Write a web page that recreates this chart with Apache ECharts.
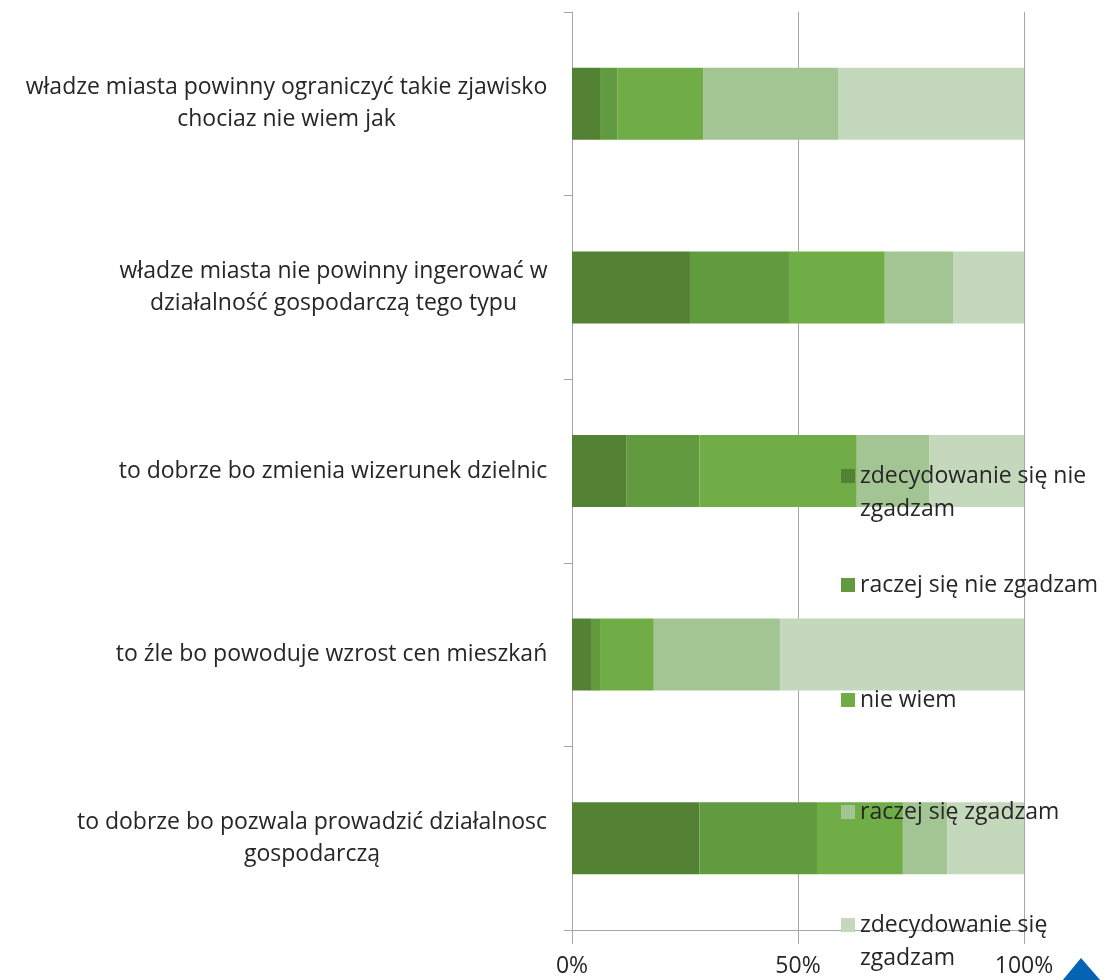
<!DOCTYPE html>
<html>
<head>
<meta charset="utf-8">
<script src="https://cdn.jsdelivr.net/npm/echarts@6/dist/echarts.min.js"></script>
<style>html,body{margin:0;padding:0;background:#fff;}#main{width:1107px;height:980px;}</style>
</head>
<body>
<div id="main"></div>
<script>
const categories = [
  "władze miasta powinny ograniczyć takie zjawisko\nchociaz nie wiem jak",
  "władze miasta nie powinny ingerować w\ndziałalność gospodarczą tego typu",
  "to dobrze bo zmienia wizerunek dzielnic",
  "to źle bo powoduje wzrost cen mieszkań",
  "to dobrze bo pozwala prowadzić działalnosc\ngospodarczą"
];
const seriesNames = [
  "zdecydowanie się nie zgadzam",
  "raczej się nie zgadzam",
  "nie wiem",
  "raczej się zgadzam",
  "zdecydowanie się zgadzam"
];
const strongDisagree = [6.2, 26.1, 12.1, 4.2, 28.2];
const ratherDisagree = [3.9, 21.9, 16.1, 2.0, 26.0];
const dontKnow      = [18.9, 21.2, 34.8, 11.9, 19.0];
const ratherAgree   = [30.0, 15.1, 16.1, 27.9, 9.8];
const strongAgree   = [41.0, 15.7, 20.9, 54.0, 17.0];
const xTicks = [0, 50, 100];

const colors = ['#548235', '#629a3f', '#70ad47', '#a3c593', '#c4d8bc'];
const legendLabels = {
  "zdecydowanie się nie zgadzam": "zdecydowanie się nie\nzgadzam",
  "raczej się nie zgadzam": "raczej się nie zgadzam",
  "nie wiem": "nie wiem",
  "raczej się zgadzam": "raczej się zgadzam",
  "zdecydowanie się zgadzam": "zdecydowanie się\nzgadzam"
};
const FONT = 'Open Sans';
const FS = 23;
const TXT = '#262626';
const L = 33;
const legendCenters = [476, 585, 700, 812, 925];
const allData = [strongDisagree, ratherDisagree, dontKnow, ratherAgree, strongAgree];

// measure label widths so multi-line labels are centred within their own block
const cv = document.createElement('canvas').getContext('2d');
cv.font = FS + 'px "' + FONT + '"';
const rich = {};
categories.forEach((c, i) => {
  const w = Math.max(...c.split('\n').map(s => cv.measureText(s).width));
  rich['r' + i] = { width: Math.ceil(w) + 1, align: 'center', fontFamily: FONT, fontSize: FS, color: TXT, lineHeight: 32 };
});

const legends = seriesNames.map((n, i) => {
  const lbl = legendLabels[n];
  const multi = lbl.indexOf('\n') >= 0;
  return {
    data: [n],
    orient: 'vertical',
    left: 841,
    top: multi ? legendCenters[i] - 1.5 * L : legendCenters[i] - L / 2,
    itemWidth: 14,
    itemHeight: 14,
    itemGap: 0,
    padding: 0,
    icon: 'rect',
    selectedMode: false,
    formatter: () => multi ? ' \n' + lbl : lbl,
    textStyle: {
      fontFamily: FONT,
      fontSize: FS,
      color: TXT,
      lineHeight: L
    }
  };
});

const chart = echarts.init(document.getElementById('main'));
chart.setOption({
  animation: false,
  backgroundColor: '#fff',
  color: colors,
  legend: legends,
  grid: { left: 572, right: 83, top: 12, bottom: 50, containLabel: false },
  xAxis: {
    type: 'value',
    min: 0, max: 100, interval: 50,
    axisLine: { show: true, lineStyle: { color: '#a6a6a6', width: 1 } },
    axisTick: { show: true, length: 14, lineStyle: { color: '#a6a6a6' } },
    axisLabel: { formatter: v => xTicks.includes(v) ? v + '%' : '', fontFamily: FONT, fontSize: FS, color: TXT, margin: 25 },
    splitLine: { show: true, lineStyle: { color: '#a6a6a6', width: 1 } }
  },
  yAxis: {
    type: 'category',
    inverse: true,
    data: categories,
    axisLine: { show: true, lineStyle: { color: '#a6a6a6', width: 1 } },
    axisTick: { show: true, length: 8, lineStyle: { color: '#a6a6a6' } },
    axisLabel: {
      fontFamily: FONT, fontSize: FS, color: TXT, lineHeight: 32, margin: 24, align: 'right',
      formatter: (v, idx) => {
        const i = categories.indexOf(v);
        return v.split('\n').map(s => '{r' + i + '|' + s + '}').join('\n');
      },
      rich: rich
    }
  },
  series: seriesNames.map((n, i) => ({
    name: n,
    type: 'bar',
    stack: 'total',
    barWidth: 72,
    data: allData[i],
    itemStyle: { color: colors[i] }
  })),
  graphic: [{
    type: 'polygon',
    shape: { points: [[1062, 981], [1081, 958], [1101, 981]] },
    style: { fill: '#0563b4' },
    z: 100
  }]
});
</script>
</body>
</html>
